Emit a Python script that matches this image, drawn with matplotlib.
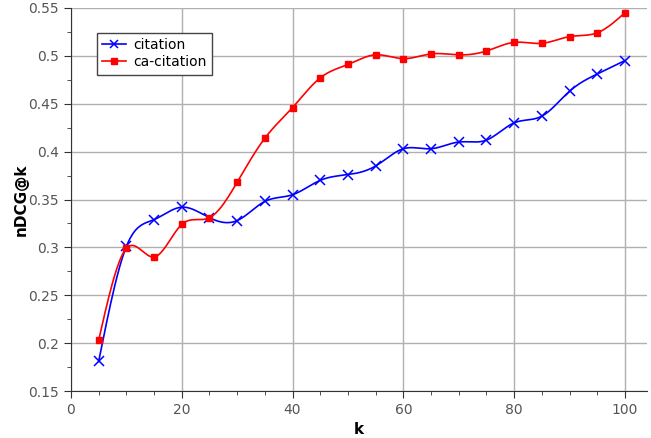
import numpy as np
import matplotlib
matplotlib.use("Agg")
import matplotlib.pyplot as plt
from matplotlib.ticker import MultipleLocator, FuncFormatter

k = [5, 10, 15, 20, 25, 30, 35, 40, 45, 50, 55, 60, 65, 70, 75, 80, 85, 90, 95, 100]
citation = [0.181, 0.301, 0.329, 0.342, 0.331, 0.328, 0.348, 0.355, 0.370, 0.376,
            0.385, 0.403, 0.403, 0.410, 0.412, 0.430, 0.437, 0.463, 0.481, 0.495]
ca_citation = [0.203, 0.299, 0.290, 0.324, 0.331, 0.368, 0.414, 0.446, 0.477, 0.491,
               0.501, 0.497, 0.502, 0.501, 0.505, 0.514, 0.513, 0.520, 0.524, 0.545]


def spline(x, y, n=400):
    # natural cubic spline, just for drawing the smooth line
    x = np.asarray(x, float)
    y = np.asarray(y, float)
    m = len(x)
    h = np.diff(x)
    A = np.zeros((m, m))
    r = np.zeros(m)
    A[0, 0] = 1
    A[-1, -1] = 1
    for i in range(1, m - 1):
        A[i, i - 1] = h[i - 1]
        A[i, i] = 2 * (h[i - 1] + h[i])
        A[i, i + 1] = h[i]
        r[i] = 3 * ((y[i + 1] - y[i]) / h[i] - (y[i] - y[i - 1]) / h[i - 1])
    c = np.linalg.solve(A, r)
    b = (y[1:] - y[:-1]) / h - h * (2 * c[:-1] + c[1:]) / 3
    d = (c[1:] - c[:-1]) / (3 * h)
    xs = np.linspace(x[0], x[-1], n)
    idx = np.clip(np.searchsorted(x, xs) - 1, 0, m - 2)
    t = xs - x[idx]
    ys = y[idx] + b[idx] * t + c[idx] * t ** 2 + d[idx] * t ** 3
    return xs, ys


fig = plt.figure(figsize=(6.51, 4.38), dpi=100)
ax = fig.add_axes([0.109, 0.107, 0.885, 0.875])

xs, ys = spline(k, citation)
ax.plot(xs, ys, color="#0000ff", lw=1.2)
ax.plot(k, citation, ls="none", marker="x", ms=7, mew=1.1, color="#0000ff")
xs, ys = spline(k, ca_citation)
ax.plot(xs, ys, color="#ff0000", lw=1.2)
ax.plot(k, ca_citation, ls="none", marker="s", ms=5, color="#ff0000")

# legend handles
h1, = ax.plot([], [], color="#0000ff", marker="x", ms=6, mew=1.1, lw=1.2, label="citation")
h2, = ax.plot([], [], color="#ff0000", marker="s", ms=4, lw=1.2, label="ca-citation")
leg = ax.legend(handles=[h1, h2], loc="upper left", bbox_to_anchor=(0.045, 0.935),
                fancybox=False, framealpha=1, edgecolor="#444444", fontsize=10,
                handlelength=1.7, handletextpad=0.5, borderpad=0.4, labelspacing=0.2,
                borderaxespad=0)
leg.get_frame().set_linewidth(1.0)

ax.set_xlim(0, 104)
ax.set_ylim(0.15, 0.55)
ax.xaxis.set_major_locator(MultipleLocator(20))
ax.xaxis.set_minor_locator(MultipleLocator(5))
ax.yaxis.set_major_locator(MultipleLocator(0.05))
ax.yaxis.set_minor_locator(MultipleLocator(0.025))
ax.yaxis.set_major_formatter(FuncFormatter(lambda v, p: ("%.2f" % v).rstrip("0").rstrip(".")))
ax.tick_params(which="both", direction="out", colors="#333333", labelcolor="#555555", labelsize=10)
ax.tick_params(which="major", length=5)
ax.tick_params(which="minor", length=3)
ax.grid(True, which="major", color="#b0b0b0", lw=1.0)
ax.set_axisbelow(True)
for s in ["top", "right"]:
    ax.spines[s].set_visible(False)
ax.spines["left"].set_color("#333333")
ax.spines["bottom"].set_color("#333333")

ax.set_xlabel("k", fontweight="bold", fontsize=11)
ax.set_ylabel("nDCG@k", fontweight="bold", fontsize=11, labelpad=0)

fig.savefig("out.png", dpi=100)
